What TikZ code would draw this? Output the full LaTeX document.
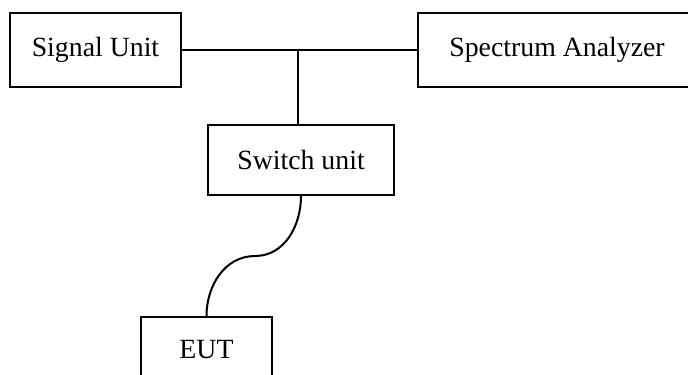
\documentclass[tikz,border=0pt]{standalone}
\usepackage{fontspec}
\setmainfont{Liberation Serif}
\begin{document}
\begin{tikzpicture}
	[x=0.5pt,y=-0.5pt,line width=1pt,
	every node/.style={rectangle,draw=black,
	font=\fontsize{13.9pt}{16pt}\selectfont}]
	\useasboundingbox (0,0) rectangle (688,374);
	\clip (0,0) rectangle (688,374);

	\node[minimum width=85.5pt,minimum height=37pt] (sig) at (95.5,50) {Signal Unit};
	\node[minimum width=139pt,minimum height=37pt] (spec) at (557,50) {Spectrum Analyzer};
	\node[minimum width=93pt,minimum height=35pt] (sw) at (301,160) {Switch unit};
	\node[minimum width=65.5pt,minimum height=33pt] (eut) at (206.5,350) {EUT};

	\coordinate (j) at (298,50); %branch to switch unit
	\coordinate (m) at (255,256); %middle of the cable

	\draw (sig) -- (spec);
	\draw (j) -- (j |- sw.north);
	\draw (sw.south) to[out=-90,in=0] (m) to[out=180,in=90] (eut.north);
\end{tikzpicture}
\end{document}
